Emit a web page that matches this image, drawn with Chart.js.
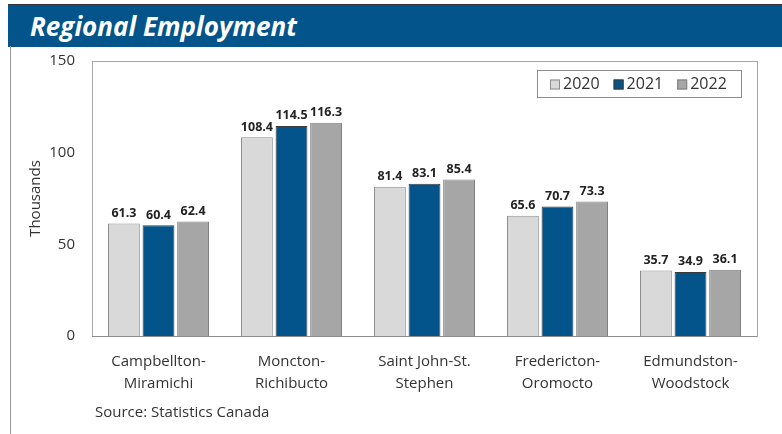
<!DOCTYPE html>
<html>
<head>
<meta charset="utf-8">
<script src="https://cdn.jsdelivr.net/npm/chart.js@4"></script>
<style>
    body { margin: 0; background: #fff; font-family: "Open Sans", sans-serif; }
    #page { position: relative; width: 782px; height: 434px; overflow: hidden; }
    #band {
        position: absolute; left: 8px; top: 4px; width: 774px; height: 42px;
        background: #03548a; border-top: 1px solid #333;
    }
    #band h1 {
        margin: 0; position: absolute; left: 22px; top: 3px;
        color: #fff; font-size: 26px; font-weight: 700; font-style: italic;
        letter-spacing: 0;
    }
    #edge { position: absolute; left: 10px; top: 46px; width: 1px; height: 388px; background: #999; }
    #wrap { position: absolute; left: 0; top: 46px; width: 782px; height: 388px; }
    #source { position: absolute; left: 95px; top: 401px; font-size: 15px; color: #333; }
</style>
</head>
<body>
<div id="page">
    <div id="band"><h1>Regional Employment</h1></div>
    <div id="edge"></div>
    <div id="wrap"><canvas id="mycanvas"></canvas></div>
    <div id="source">Source: Statistics Canada</div>
</div>
<script>
var regions = [
    ["Campbellton-", "Miramichi"],
    ["Moncton-", "Richibucto"],
    ["Saint John-St.", "Stephen"],
    ["Fredericton-", "Oromocto"],
    ["Edmundston-", "Woodstock"]
];
var years = ["2020", "2021", "2022"];
var emp2020 = [61.3, 108.4, 81.4, 65.6, 35.7];
var emp2021 = [60.4, 114.5, 83.1, 70.7, 34.9];
var emp2022 = [62.4, 116.3, 85.4, 73.3, 36.1];
var yTicks = [0, 50, 100, 150];

var fills = ["#d9d9d9", "#03548a", "#a6a6a6"];
var edges = ["#8c8c8c", "#3a3a3a", "#7f7f7f"];

// box round the plot, value labels over the bars, and the legend box
var extras = {
    id: "extras",
    afterDatasetsDraw: function (chart) {
        var ctx = chart.ctx;
        var a = chart.chartArea;
        ctx.save();
        ctx.strokeStyle = "#a6a6a6";
        ctx.lineWidth = 1;
        ctx.strokeRect(a.left + 0.5, a.top + 0.5, a.right - a.left, a.bottom - a.top);
        ctx.strokeStyle = "#8c8c8c";
        ctx.beginPath();
        ctx.moveTo(a.left, a.bottom + 0.5);
        ctx.lineTo(a.right, a.bottom + 0.5);
        ctx.stroke();

        ctx.fillStyle = "#222";
        ctx.font = "bold 12.5px 'Open Sans'";
        ctx.textAlign = "center";
        ctx.textBaseline = "bottom";
        chart.data.datasets.forEach(function (ds, i) {
            chart.getDatasetMeta(i).data.forEach(function (bar, j) {
                ctx.fillText(ds.data[j].toFixed(1), bar.x, bar.y - 4);
            });
        });

        // legend
        ctx.font = "16px 'Open Sans'";
        ctx.textAlign = "left";
        ctx.textBaseline = "middle";
        var boxW = 204, boxH = 27;
        var bx = a.right - 220, by = a.top + 9;
        ctx.strokeStyle = "#8c8c8c";
        ctx.strokeRect(bx + 0.5, by + 0.5, boxW, boxH);
        var x = bx + 13;
        var cy = by + boxH / 2 + 1;
        chart.data.datasets.forEach(function (ds) {
            ctx.fillStyle = ds.backgroundColor;
            ctx.fillRect(x, cy - 5, 10, 10);
            ctx.strokeStyle = ds.borderColor;
            ctx.strokeRect(x + 0.5, cy - 4.5, 9, 9);
            ctx.fillStyle = "#333";
            ctx.fillText(ds.label, x + 13, cy);
            x += 13 + ctx.measureText(ds.label).width + 14;
        });
        ctx.restore();
    }
};

var ctx = document.getElementById("mycanvas");

var barGraph = new Chart(ctx, {
    type: "bar",
    data: {
        labels: regions,
        datasets: [
            { label: years[0], data: emp2020, backgroundColor: fills[0], borderColor: edges[0], borderWidth: 1 },
            { label: years[1], data: emp2021, backgroundColor: fills[1], borderColor: edges[1], borderWidth: 1 },
            { label: years[2], data: emp2022, backgroundColor: fills[2], borderColor: edges[2], borderWidth: 1 }
        ]
    },
    options: {
        responsive: true,
        maintainAspectRatio: false,
        animation: false,
        layout: { padding: { left: 27, right: 25, top: 15, bottom: 10 } },
        datasets: { bar: { categoryPercentage: 0.78, barPercentage: 0.92 } },
        plugins: {
            legend: { display: false },
            tooltip: { enabled: false }
        },
        scales: {
            x: {
                grid: { display: false, drawTicks: false },
                border: { display: false },
                ticks: {
                    color: "#333",
                    padding: 15,
                    maxRotation: 0,
                    font: { family: "Open Sans", size: 15, lineHeight: 1.45 }
                },
                afterFit: function (scale) { scale.height = 88; }
            },
            y: {
                min: 0,
                max: 150,
                afterBuildTicks: function (scale) {
                    scale.ticks = yTicks.map(function (v) { return { value: v }; });
                },
                grid: { display: false, drawTicks: false },
                border: { display: false },
                ticks: {
                    color: "#333",
                    padding: 17,
                    font: { family: "Open Sans", size: 15 }
                },
                title: {
                    display: true,
                    text: "Thousands",
                    color: "#333",
                    padding: 0,
                    font: { family: "Open Sans", size: 15 }
                },
                afterFit: function (scale) {
                    scale.width = 65;
                    scale.paddingTop = 0;
                    scale.paddingBottom = 0;
                }
            }
        }
    },
    plugins: [extras]
});
</script>
</body>
</html>
